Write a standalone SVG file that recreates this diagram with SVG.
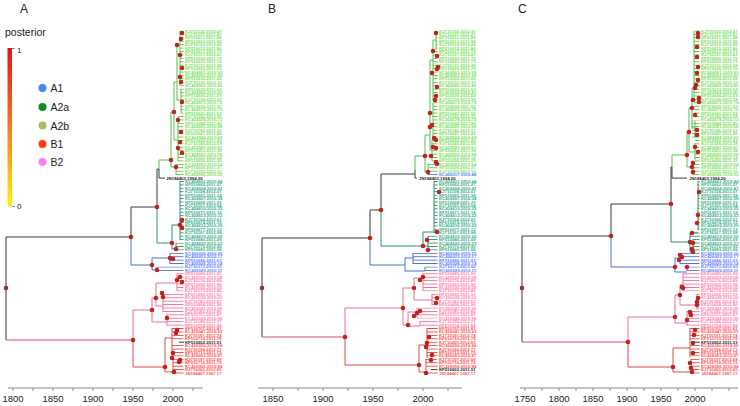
<svg xmlns="http://www.w3.org/2000/svg" xmlns:xlink="http://www.w3.org/1999/xlink" width="740" height="406" viewBox="0 0 740 406">
<style>
.br{fill:none;stroke-width:1}
.k{stroke:#3a3a3a}.g{stroke:#5cbd48}.t{stroke:#2e8e72}.b{stroke:#4a6fd2}.p{stroke:#ea7096}.r{stroke:#df4848}.rt{stroke:#d2555f}
.lab{font-family:"Liberation Sans",Arial,sans-serif;font-size:4.3px;font-weight:bold}
.lg{fill:#78e05c}.lt{fill:#34ad86}.lb{fill:#5b7cff}.lp{fill:#ff7eaa}.lr{fill:#ff4f4f}.lk{fill:#222}
.dot circle{fill:#bf231b}
.ax{font-family:"Liberation Sans",Arial,sans-serif;font-size:9.5px;fill:#222;text-anchor:middle}
.axl{stroke:#8a8a8a;stroke-width:1;fill:none}
.ttl{font-family:"Liberation Sans",Arial,sans-serif;font-size:12px;fill:#222}
.leg{font-family:"Liberation Sans",Arial,sans-serif;font-size:10.5px;fill:#222}
</style>
<defs>
<linearGradient id="post" x1="0" y1="0" x2="0" y2="1">
<stop offset="0" stop-color="#e3131d"/><stop offset="0.5" stop-color="#f47b20"/><stop offset="1" stop-color="#fff200"/>
</linearGradient>
<pattern id="sg" patternUnits="userSpaceOnUse" width="8" height="3.42" y="-0.23"><rect width="8" height="0.9" fill="#5cbd48"/></pattern>
<pattern id="st" patternUnits="userSpaceOnUse" width="8" height="3.42" y="-0.23"><rect width="8" height="0.9" fill="#2e8e72"/></pattern>
<pattern id="sb" patternUnits="userSpaceOnUse" width="8" height="3.42" y="-0.23"><rect width="8" height="0.9" fill="#4a6fd2"/></pattern>
<pattern id="sp" patternUnits="userSpaceOnUse" width="8" height="3.42" y="-0.23"><rect width="8" height="0.9" fill="#ea7096"/></pattern>
<pattern id="sr" patternUnits="userSpaceOnUse" width="8" height="3.42" y="-0.23"><rect width="8" height="0.9" fill="#df4848"/></pattern>
<g id="labG"><text class="lab lg" y="32.5"><tspan x="0">KJ710120.2012.47</tspan><tspan x="0" dy="3.42">KJ710121.2012.47</tspan><tspan x="0" dy="3.42">KF510611.2011.88</tspan><tspan x="0" dy="3.42">KF510612.2011.86</tspan><tspan x="0" dy="3.42">KJ710123.2012.45</tspan><tspan x="0" dy="3.42">KF510615.2011.80</tspan><tspan x="0" dy="3.42">KF510617.2011.79</tspan><tspan x="0" dy="3.42">KJ710127.2012.41</tspan><tspan x="0" dy="3.42">KF510620.2011.75</tspan><tspan x="0" dy="3.42">KF510622.2011.73</tspan><tspan x="0" dy="3.42">KJ710131.2012.38</tspan><tspan x="0" dy="3.42">KF510626.2011.70</tspan><tspan x="0" dy="3.42">KC424561.2010.92</tspan><tspan x="0" dy="3.42">KC424563.2010.90</tspan><tspan x="0" dy="3.42">KF510630.2011.66</tspan><tspan x="0" dy="3.42">KJ710135.2012.33</tspan><tspan x="0" dy="3.42">KC424566.2010.86</tspan><tspan x="0" dy="3.42">KF510633.2011.62</tspan><tspan x="0" dy="3.42">KC424569.2010.83</tspan><tspan x="0" dy="3.42">KF510636.2011.59</tspan><tspan x="0" dy="3.42">KJ710139.2012.29</tspan><tspan x="0" dy="3.42">KC424572.2010.79</tspan><tspan x="0" dy="3.42">KF510639.2011.55</tspan><tspan x="0" dy="3.42">KC424575.2010.76</tspan><tspan x="0" dy="3.42">KF510641.2011.52</tspan><tspan x="0" dy="3.42">KJ710142.2012.25</tspan><tspan x="0" dy="3.42">KC424578.2010.72</tspan><tspan x="0" dy="3.42">KF510644.2011.49</tspan><tspan x="0" dy="3.42">KC424581.2010.68</tspan><tspan x="0" dy="3.42">KJ710146.2012.21</tspan><tspan x="0" dy="3.42">KF510647.2011.45</tspan><tspan x="0" dy="3.42">KC424584.2010.65</tspan><tspan x="0" dy="3.42">KF510650.2011.42</tspan><tspan x="0" dy="3.42">KJ710149.2012.18</tspan><tspan x="0" dy="3.42">KC424587.2010.61</tspan><tspan x="0" dy="3.42">KF510653.2011.38</tspan><tspan x="0" dy="3.42">KC424590.2010.58</tspan><tspan x="0" dy="3.42">KJ710152.2012.14</tspan><tspan x="0" dy="3.42">KF510656.2011.35</tspan><tspan x="0" dy="3.42">KC424593.2010.54</tspan><tspan x="0" dy="3.42">KF510659.2011.31</tspan><tspan x="0" dy="3.42">KJ710155.2012.10</tspan></text></g>
<g id="labT"><text class="lab lt" y="182.98"><tspan x="0">KC424601.2010.44</tspan><tspan x="0" dy="3.42">KF510662.2011.27</tspan><tspan x="0" dy="3.42">KC424604.2010.41</tspan><tspan x="0" dy="3.42">KJ710158.2012.07</tspan><tspan x="0" dy="3.42">KF510665.2011.24</tspan><tspan x="0" dy="3.42">KC424607.2010.38</tspan><tspan x="0" dy="3.42">KF510668.2011.21</tspan><tspan x="0" dy="3.42">KJ710161.2012.04</tspan><tspan x="0" dy="3.42">KC424610.2010.35</tspan><tspan x="0" dy="3.42">KF510671.2011.18</tspan><tspan x="0" dy="3.42">KC424613.2010.32</tspan><tspan x="0" dy="3.42">KJ710164.2012.01</tspan><tspan x="0" dy="3.42">KF510674.2011.15</tspan><tspan x="0" dy="3.42">KC424616.2010.29</tspan><tspan x="0" dy="3.42">KF510677.2011.12</tspan><tspan x="0" dy="3.42">KJ710167.2012.98</tspan><tspan x="0" dy="3.42">KC424619.2010.26</tspan><tspan x="0" dy="3.42">KF510680.2011.09</tspan><tspan x="0" dy="3.42">KC424622.2010.23</tspan><tspan x="0" dy="3.42">KJ710170.2012.95</tspan><tspan x="0" dy="3.42">KF510683.2011.06</tspan></text></g>
<g id="labB"><text class="lab lb" y="254.8"><tspan x="0">KC426020.2010.20</tspan><tspan x="0" dy="3.42">KC426023.2010.17</tspan><tspan x="0" dy="3.42">KF510686.2011.03</tspan><tspan x="0" dy="3.42">KC426026.2010.14</tspan><tspan x="0" dy="3.42">KJ710173.2012.92</tspan><tspan x="0" dy="3.42">KC426029.2010.11</tspan></text></g>
<g id="labP"><text class="lab lp" y="275.32"><tspan x="0">KF510689.2011.99</tspan><tspan x="0" dy="3.42">KC426032.2010.08</tspan><tspan x="0" dy="3.42">KJ710176.2012.89</tspan><tspan x="0" dy="3.42">KF510692.2011.96</tspan><tspan x="0" dy="3.42">KC426035.2010.05</tspan><tspan x="0" dy="3.42">KJ710179.2012.86</tspan><tspan x="0" dy="3.42">KF510695.2011.93</tspan><tspan x="0" dy="3.42">KC426038.2010.02</tspan><tspan x="0" dy="3.42">KJ710182.2012.83</tspan><tspan x="0" dy="3.42">KF510698.2011.90</tspan><tspan x="0" dy="3.42">KC426041.2010.99</tspan><tspan x="0" dy="3.42">KJ710185.2012.80</tspan><tspan x="0" dy="3.42">KF510701.2011.87</tspan><tspan x="0" dy="3.42">KC426044.2010.96</tspan><tspan x="0" dy="3.42">KJ710188.2012.77</tspan><tspan x="0" dy="3.42">KF510704.2011.84</tspan></text></g>
<g id="labRa"><text class="lab lr" y="330.04"><tspan x="0">KF510707.2011.81</tspan><tspan x="0" dy="3.42">KC426047.2010.93</tspan><tspan x="0" dy="3.42">KJ710191.2012.74</tspan><tspan x="0" dy="3.42">KF510710.2011.78</tspan><tspan x="0" dy="3.42" class="lk">KF510602.2011.51</tspan><tspan x="0" dy="3.42">KC426050.2010.90</tspan><tspan x="0" dy="3.42">KJ710194.2012.71</tspan><tspan x="0" dy="3.42">KF510713.2011.75</tspan><tspan x="0" dy="3.42">KC426053.2010.87</tspan><tspan x="0" dy="3.42">KJ710197.2012.68</tspan><tspan x="0" dy="3.42">KF510716.2011.72</tspan><tspan x="0" dy="3.42">KC426056.2010.84</tspan><tspan x="0" dy="3.42">KJ710200.2012.65</tspan><tspan x="0" dy="3.42">JN184407.1997.17</tspan></text></g>
<g id="labRb"><text class="lab lr" y="330.04"><tspan x="0">KF510707.2011.81</tspan><tspan x="0" dy="3.42">KC426047.2010.93</tspan><tspan x="0" dy="3.42">KJ710191.2012.74</tspan><tspan x="0" dy="3.42">KF510710.2011.78</tspan><tspan x="0" dy="3.42">KJ710200.2012.65</tspan><tspan x="0" dy="3.42">KC426050.2010.90</tspan><tspan x="0" dy="3.42">KJ710194.2012.71</tspan><tspan x="0" dy="3.42">KF510713.2011.75</tspan><tspan x="0" dy="3.42">KC426053.2010.87</tspan><tspan x="0" dy="3.42">KJ710197.2012.68</tspan><tspan x="0" dy="3.42">KF510716.2011.72</tspan><tspan x="0" dy="3.42">KC426056.2010.84</tspan><tspan x="0" dy="3.42" class="lk">KF510602.2011.51</tspan><tspan x="0" dy="3.42">JN184407.1997.17</tspan></text></g>
</defs>
<rect width="740" height="406" fill="#fff"/>

<!-- ================= PANEL A ================= -->
<g id="panelA">
<text class="ttl" x="20" y="13">A</text>
<g id="legend">
<text class="leg" x="5" y="36">posterior</text>
<rect x="7.5" y="48" width="4.5" height="158" fill="url(#post)"/>
<path class="axl" d="M12,48.5H15M12,206.5H15"/>
<text class="leg" x="17" y="53" style="font-size:8px">1</text>
<text class="leg" x="17" y="209" style="font-size:8px">0</text>
<g id="leg-A1"><circle cx="42.5" cy="88" r="4" fill="#4a88ee"/><text class="leg" x="50.5" y="92">A1</text></g>
<g id="leg-A2a"><circle cx="42.5" cy="107" r="4" fill="#118a1e"/><text class="leg" x="50.5" y="111">A2a</text></g>
<g id="leg-A2b"><circle cx="42.5" cy="125.5" r="4" fill="#a6bf6e"/><text class="leg" x="50.5" y="129.5">A2b</text></g>
<g id="leg-B1"><circle cx="42.5" cy="144" r="4" fill="#ff3d12"/><text class="leg" x="50.5" y="148">B1</text></g>
<g id="leg-B2"><circle cx="42.5" cy="162" r="4" fill="#ff80f0"/><text class="leg" x="50.5" y="166">B2</text></g>
</g>
<g id="connectorsA" class="br">
<path class="k" d="M6,237V340M6,237H131M131,207V237M131,207H157M157,169V207M157,169H159M159,169V178.1H165M179,342.2H184"/>
<path class="rt" d="M6,340H133"/>
<path class="g" d="M159,169V160H171M171,112V167M171,167H176M176,164V175M171,112H174M174,82V140M174,140H178M178,117V161M174,82H177M177,45V100M177,100H181M181,89V113M177,45H180M180,31V86"/>
<path class="t" d="M157,207V243H172M172,225V249M172,249H176M176,243V250M172,225H180M180,181V240"/>
<path class="b" d="M131,237V265H152M152,258V270M152,258H170M170,253V264M152,270H157M157,267V271"/>
<path class="p" d="M133,340V310H152M152,298V322M152,298H156M156,283V306M156,283H177M177,273.5V291M156,306H163M163,294V312M152,322H167M167,314V325.5"/>
<path class="r" d="M133,340V367H165M165,338V372M165,338H172M172,328V356M165,372H173M173,359V373.5"/>
</g>
<g id="stubsA">
<rect x="180" y="30.5" width="3.5" height="56" fill="url(#sg)"/>
<rect x="181" y="88" width="2.5" height="26" fill="url(#sg)"/>
<rect x="178" y="116" width="5.5" height="46" fill="url(#sg)"/>
<rect x="176" y="164" width="7.5" height="11.5" fill="url(#sg)"/>
<rect x="180" y="181" width="3.5" height="59" fill="url(#st)"/>
<rect x="176" y="242.5" width="7.5" height="8" fill="url(#st)"/>
<rect x="170" y="252.5" width="13.5" height="12" fill="url(#sb)"/>
<rect x="157" y="266.5" width="26.5" height="5" fill="url(#sb)"/>
<rect x="177" y="273" width="6.5" height="18.5" fill="url(#sp)"/>
<rect x="163" y="293.5" width="20.5" height="19" fill="url(#sp)"/>
<rect x="167" y="314" width="16.5" height="12" fill="url(#sp)"/>
<rect x="172" y="328" width="11.5" height="13" fill="url(#sr)"/>
<rect x="172" y="344" width="11.5" height="12.5" fill="url(#sr)"/>
<rect x="173" y="359" width="10.5" height="15" fill="url(#sr)"/>
</g>
<g id="tipsA">
<use href="#labG" x="185"/>
<text class="lab lg" x="185" y="176.14">KC424596.2010.50</text>
<text class="lab lk" x="166" y="179.56">JN184403.1994.20</text>
<use href="#labT" x="185"/>
<use href="#labB" x="185"/>
<use href="#labP" x="185"/>
<use href="#labRa" x="185"/>
</g>
<g id="nodesA" class="dot">
<circle cx="6" cy="288" r="2.3"/><circle cx="131" cy="237" r="2.3"/><circle cx="157" cy="207" r="2.3"/><circle cx="133" cy="340" r="2.3"/>
<circle cx="171" cy="160" r="2.3"/><circle cx="176" cy="167" r="2.3"/><circle cx="182" cy="33" r="2.3"/><circle cx="181" cy="39" r="2.3"/><circle cx="180" cy="55" r="2.3"/><circle cx="182" cy="68" r="2.3"/><circle cx="180" cy="77" r="2.3"/><circle cx="181" cy="82" r="2.3"/><circle cx="182" cy="102" r="2.3"/><circle cx="174" cy="112" r="2.3"/><circle cx="178" cy="120" r="2.3"/><circle cx="181" cy="132" r="2.3"/><circle cx="180" cy="142" r="2.3"/><circle cx="178" cy="148" r="2.3"/><circle cx="182" cy="153" r="2.3"/><circle cx="177" cy="45" r="2.3"/>
<circle cx="172" cy="243" r="2.3"/><circle cx="176" cy="249" r="2.3"/><circle cx="180" cy="225" r="2.3"/><circle cx="182" cy="220" r="2.3"/><circle cx="182" cy="228" r="2.3"/>
<circle cx="152" cy="265" r="2.3"/><circle cx="157" cy="270" r="2.3"/><circle cx="170" cy="258" r="2.3"/><circle cx="173" cy="259" r="2.3"/>
<circle cx="152" cy="310" r="2.3"/><circle cx="156" cy="298" r="2.3"/><circle cx="162" cy="293" r="2.3"/><circle cx="163" cy="297" r="2.3"/><circle cx="177" cy="280" r="2.3"/><circle cx="180" cy="277" r="2.3"/><circle cx="182" cy="282" r="2.3"/><circle cx="167" cy="318" r="2.3"/>
<circle cx="165" cy="367" r="2.3"/><circle cx="177" cy="330" r="2.3"/><circle cx="176" cy="333" r="2.3"/><circle cx="173" cy="353" r="2.3"/><circle cx="172" cy="358" r="2.3"/><circle cx="179" cy="362" r="2.3"/><circle cx="180" cy="360" r="2.3"/><circle cx="174" cy="372" r="2.3"/>
</g>
<g id="axisA">
<path class="axl" d="M8,388H203M13,388v3M33,388v3M53,388v3M73,388v3M93,388v3M113,388v3M133,388v3M153,388v3M173,388v3M193,388v3"/>
<text class="ax" x="13" y="402">1800</text><text class="ax" x="53" y="402">1850</text><text class="ax" x="93" y="402">1900</text><text class="ax" x="133" y="402">1950</text><text class="ax" x="173" y="402">2000</text>
</g>
</g>

<!-- ================= PANEL B ================= -->
<g id="panelB">
<text class="ttl" x="268" y="13">B</text>
<g id="connectorsB" class="br">
<path class="k" d="M262,238V337M262,238H370M370,210V238M370,210H381M381,174V210M381,174H415M415,170V178.1H417M431,369.6H437.5"/>
<path class="rt" d="M262,337H345"/>
<path class="g" d="M415,170V156H425M425,135V172M425,172H428M428,164V172M425,135H430M430,60V150M430,150H432M432,140V161M430,113H433M433,103V137M430,60H433M433,40V100M433,40H436M436,31V50"/>
<path class="b" d="M428,172V175M370,238V265H405M405,258V271M405,258H413M413,253V264M405,271H425M425,267V271"/>
<path class="t" d="M381,210V246H423M423,232V246M423,232H434M434,181V233M423,246H428M428,236V250"/>
<path class="p" d="M345,337V308H403M403,288V325M403,288H414M414,278V300M414,278H423M423,273.5V291M414,300H432M432,294V305M403,325H408M408,312V326M408,312H417M417,308V318M408,326H420M420,321V325.5"/>
<path class="r" d="M345,337V365H419M419,345V372M419,345H427M427,328V358M419,372H426M426,359V373.5"/>
</g>
<g id="stubsB">
<rect x="436" y="30.5" width="1.5" height="19" fill="url(#sg)"/>
<rect x="433" y="51" width="4.5" height="50" fill="url(#sg)"/>
<rect x="433" y="102" width="4.5" height="36" fill="url(#sg)"/>
<rect x="432" y="140" width="5.5" height="21.5" fill="url(#sg)"/>
<rect x="428" y="164" width="9.5" height="8" fill="url(#sg)"/>
<rect x="428" y="173.5" width="9.5" height="2" fill="url(#sb)"/>
<rect x="434" y="181" width="3.5" height="52.5" fill="url(#st)"/>
<rect x="428" y="235.5" width="9.5" height="15" fill="url(#st)"/>
<rect x="413" y="252.5" width="24.5" height="12" fill="url(#sb)"/>
<rect x="425" y="266.5" width="12.5" height="5" fill="url(#sb)"/>
<rect x="423" y="273" width="14.5" height="18.5" fill="url(#sp)"/>
<rect x="432" y="293.5" width="5.5" height="12" fill="url(#sp)"/>
<rect x="417" y="307.5" width="20.5" height="11" fill="url(#sp)"/>
<rect x="420" y="321" width="17.5" height="5" fill="url(#sp)"/>
<rect x="427" y="328" width="10.5" height="28.5" fill="url(#sr)"/>
<rect x="426" y="359" width="11.5" height="9" fill="url(#sr)"/>
<rect x="426" y="372" width="11.5" height="2" fill="url(#sr)"/>
</g>
<g id="tipsB">
<use href="#labG" x="439"/>
<text class="lab lb" x="439" y="176.14">KC426017.2010.48</text>
<text class="lab lk" x="419" y="179.56">JN184403.1994.20</text>
<use href="#labT" x="439"/>
<use href="#labB" x="439"/>
<use href="#labP" x="439"/>
<use href="#labRb" x="439"/>
</g>
<g id="nodesB" class="dot">
<circle cx="262" cy="288" r="2.3"/><circle cx="370" cy="238" r="2.3"/><circle cx="381" cy="210" r="2.3"/><circle cx="345" cy="337" r="2.3"/><circle cx="425" cy="156" r="2.3"/>
<circle cx="436" cy="33" r="2.3"/><circle cx="433" cy="51" r="2.3"/><circle cx="437" cy="56" r="2.3"/><circle cx="438" cy="67" r="2.3"/><circle cx="437" cy="69" r="2.3"/><circle cx="432" cy="73" r="2.3"/><circle cx="437" cy="87" r="2.3"/><circle cx="436" cy="96" r="2.3"/><circle cx="435" cy="100" r="2.3"/><circle cx="430" cy="113" r="2.3"/><circle cx="430" cy="127" r="2.3"/><circle cx="432" cy="125" r="2.3"/><circle cx="434" cy="138" r="2.3"/><circle cx="436" cy="140" r="2.3"/><circle cx="433" cy="147" r="2.3"/><circle cx="436" cy="148" r="2.3"/><circle cx="431" cy="156" r="2.3"/><circle cx="436" cy="162" r="2.3"/><circle cx="437" cy="164" r="2.3"/><circle cx="428" cy="172" r="2.3"/>
<circle cx="439" cy="192" r="2.3"/><circle cx="437" cy="232" r="2.3"/><circle cx="427" cy="240" r="2.3"/><circle cx="423" cy="246" r="2.3"/><circle cx="428" cy="250" r="2.3"/>
<circle cx="403" cy="308" r="2.3"/><circle cx="408" cy="325" r="2.3"/><circle cx="414" cy="288" r="2.3"/><circle cx="420" cy="280" r="2.3"/><circle cx="423" cy="277" r="2.3"/><circle cx="437" cy="298" r="2.3"/><circle cx="436" cy="303" r="2.3"/><circle cx="414" cy="316" r="2.3"/><circle cx="417" cy="313" r="2.3"/><circle cx="420" cy="311" r="2.3"/>
<circle cx="419" cy="365" r="2.3"/><circle cx="429" cy="337" r="2.3"/><circle cx="427" cy="343" r="2.3"/><circle cx="426" cy="347" r="2.3"/><circle cx="432" cy="355" r="2.3"/><circle cx="431" cy="360" r="2.3"/><circle cx="426" cy="373" r="2.3"/>
</g>
<g id="axisB">
<path class="axl" d="M258,388H462M273,388v3M298,388v3M323,388v3M348,388v3M373,388v3M398,388v3M423,388v3M448,388v3"/>
<text class="ax" x="273" y="402">1850</text><text class="ax" x="323" y="402">1900</text><text class="ax" x="373" y="402">1950</text><text class="ax" x="423" y="402">2000</text>
</g>
</g>

<!-- ================= PANEL C ================= -->
<g id="panelC">
<text class="ttl" x="518" y="13">C</text>
<g id="connectorsC" class="br">
<path class="k" d="M522,236V342M522,236H611M611,204V236M611,204H671M671,167V204M671,167H672M672,167V178.1H687M693,342.2H700"/>
<path class="rt" d="M522,342H628"/>
<path class="g" d="M672,167V155H687M687,132V167M687,167H693M693,163V175M687,132H689M689,108V152M689,152H695M695,143V160M689,108H692M692,88V128M692,128H695M695,121V137M692,88H694M694,31V100"/>
<path class="t" d="M671,204V242H690M690,233V252M690,233H698M698,181V230M690,252H693M693,239V251"/>
<path class="b" d="M611,236V267H675M675,258V272M675,258H680M680,253V264M675,272H687M687,266V271"/>
<path class="p" d="M628,342V317H675M675,295V323M675,295H680M680,285V305M680,285H683M683,273.5V291M680,305H697M697,294V310M675,323H687M687,311V325.5"/>
<path class="r" d="M628,342V367H673M673,348V372M673,348H690M690,328V357M673,372H691M691,359V373.5"/>
</g>
<g id="stubsC">
<rect x="694" y="30.5" width="5.5" height="88" fill="url(#sg)"/>
<rect x="692" y="120" width="7.5" height="19" fill="url(#sg)"/>
<rect x="695" y="140" width="4.5" height="22" fill="url(#sg)"/>
<rect x="693" y="164" width="6.5" height="11.5" fill="url(#sg)"/>
<rect x="698" y="181" width="1.5" height="50" fill="url(#st)"/>
<rect x="690" y="232.5" width="9.5" height="5" fill="url(#st)"/>
<rect x="693" y="239" width="6.5" height="12" fill="url(#st)"/>
<rect x="680" y="252.5" width="19.5" height="12" fill="url(#sb)"/>
<rect x="687" y="266.5" width="12.5" height="5" fill="url(#sb)"/>
<rect x="683" y="273" width="16.5" height="18.5" fill="url(#sp)"/>
<rect x="697" y="293.5" width="2.5" height="16" fill="url(#sp)"/>
<rect x="687" y="311" width="12.5" height="15" fill="url(#sp)"/>
<rect x="690" y="328" width="9.5" height="13" fill="url(#sr)"/>
<rect x="690" y="344" width="9.5" height="12.5" fill="url(#sr)"/>
<rect x="691" y="359" width="8.5" height="15" fill="url(#sr)"/>
</g>
<g id="tipsC">
<use href="#labG" x="701"/>
<text class="lab lg" x="701" y="176.14">KC424596.2010.50</text>
<text class="lab lk" x="689" y="179.56">JN184403.1994.20</text>
<use href="#labT" x="701"/>
<use href="#labB" x="701"/>
<use href="#labP" x="701"/>
<use href="#labRa" x="701"/>
</g>
<g id="nodesC" class="dot">
<circle cx="522" cy="288" r="2.3"/><circle cx="611" cy="236" r="2.3"/><circle cx="671" cy="204" r="2.3"/><circle cx="628" cy="342" r="2.3"/><circle cx="687" cy="155" r="2.3"/>
<circle cx="698" cy="33" r="2.3"/><circle cx="698" cy="37" r="2.3"/><circle cx="697" cy="47" r="2.3"/><circle cx="697" cy="57" r="2.3"/><circle cx="698" cy="67" r="2.3"/><circle cx="697" cy="73" r="2.3"/><circle cx="698" cy="80" r="2.3"/><circle cx="696" cy="85" r="2.3"/><circle cx="695" cy="88" r="2.3"/><circle cx="693" cy="100" r="2.3"/><circle cx="699" cy="98" r="2.3"/><circle cx="699" cy="102" r="2.3"/><circle cx="692" cy="108" r="2.3"/><circle cx="695" cy="115" r="2.3"/><circle cx="689" cy="132" r="2.3"/><circle cx="697" cy="130" r="2.3"/><circle cx="697" cy="135" r="2.3"/><circle cx="695" cy="147" r="2.3"/><circle cx="698" cy="152" r="2.3"/><circle cx="693" cy="163" r="2.3"/><circle cx="692" cy="167" r="2.3"/><circle cx="693" cy="172" r="2.3"/>
<circle cx="699" cy="192" r="2.3"/><circle cx="698" cy="215" r="2.3"/><circle cx="697" cy="223" r="2.3"/><circle cx="692" cy="233" r="2.3"/><circle cx="690" cy="242" r="2.3"/><circle cx="693" cy="243" r="2.3"/><circle cx="692" cy="249" r="2.3"/><circle cx="693" cy="252" r="2.3"/>
<circle cx="675" cy="267" r="2.3"/><circle cx="680" cy="255" r="2.3"/><circle cx="682" cy="257" r="2.3"/><circle cx="679" cy="260" r="2.3"/><circle cx="687" cy="267" r="2.3"/>
<circle cx="675" cy="317" r="2.3"/><circle cx="682" cy="287" r="2.3"/><circle cx="683" cy="288" r="2.3"/><circle cx="680" cy="295" r="2.3"/><circle cx="698" cy="298" r="2.3"/><circle cx="697" cy="302" r="2.3"/><circle cx="697" cy="305" r="2.3"/><circle cx="687" cy="320" r="2.3"/><circle cx="690" cy="312" r="2.3"/><circle cx="691" cy="315" r="2.3"/>
<circle cx="673" cy="367" r="2.3"/><circle cx="695" cy="330" r="2.3"/><circle cx="694" cy="335" r="2.3"/><circle cx="693" cy="343" r="2.3"/><circle cx="693" cy="353" r="2.3"/><circle cx="690" cy="363" r="2.3"/><circle cx="691" cy="368" r="2.3"/><circle cx="692" cy="372" r="2.3"/>
</g>
<g id="axisC">
<path class="axl" d="M520,388H738M525,388v3M542,388v3M559,388v3M576,388v3M593,388v3M610,388v3M627,388v3M644,388v3M661,388v3M678,388v3M695,388v3M712,388v3M729,388v3"/>
<text class="ax" x="525" y="402">1750</text><text class="ax" x="559" y="402">1800</text><text class="ax" x="593" y="402">1850</text><text class="ax" x="627" y="402">1900</text><text class="ax" x="661" y="402">1950</text><text class="ax" x="695" y="402">2000</text>
</g>
</g>
</svg>
